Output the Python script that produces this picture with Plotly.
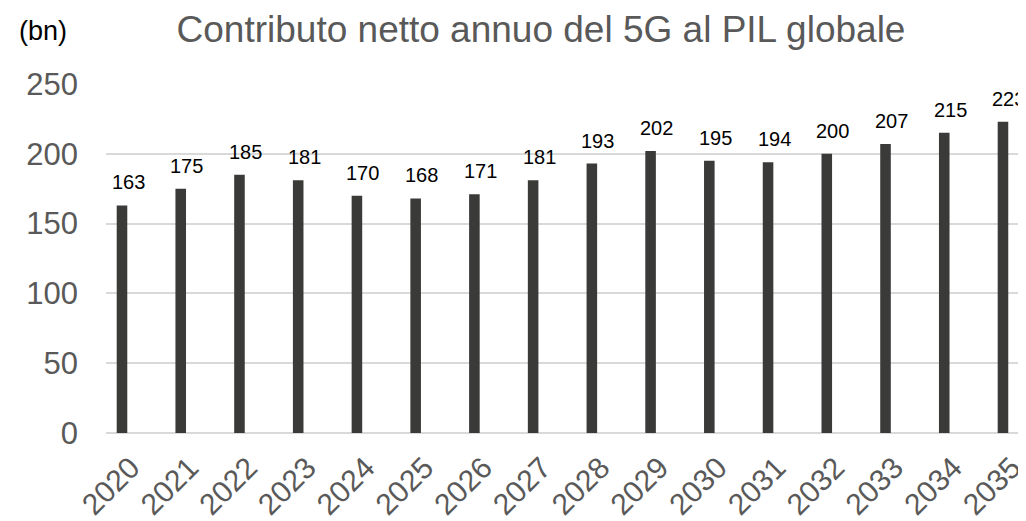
import plotly.graph_objects as go

years = [str(y) for y in range(2020, 2036)]
values = [163, 175, 185, 181, 170, 168, 171, 181, 193, 202, 195, 194, 200, 207, 215, 223]
title_text = "Contributo netto annuo del 5G al PIL globale"
unit_text = "(bn)"
y_ticks = [0, 50, 100, 150, 200, 250]

FONT = "Liberation Sans, Arial, sans-serif"
BAR_COLOR = "#3a3b38"
GRID = "#d9d9d9"
GRAY_TEXT = "#595959"

# page has an 8px body margin; figure is sized/offset to compensate
W, H = 1018, 513

fig = go.Figure()
fig.add_trace(go.Bar(
    x=years, y=values, width=0.18,
    marker=dict(color=BAR_COLOR, line=dict(width=0)),
    hoverinfo="x+y",
))

annotations = []
for i, v in enumerate(values):
    annotations.append(dict(
        x=i, y=v, xref="x", yref="y", text=str(v), showarrow=False,
        xanchor="center", yanchor="bottom", xshift=6, yshift=10,
        font=dict(family=FONT, size=20, color="#000000"),
    ))
annotations.append(dict(
    x=-0.0967, y=1.152, xref="paper", yref="paper", text=unit_text,
    showarrow=False, xanchor="left", yanchor="middle",
    font=dict(family=FONT, size=27, color="#000000"),
))

fig.update_layout(
    width=W, height=H,
    margin=dict(l=98, r=0, t=76, b=88, autoexpand=False),
    paper_bgcolor="white", plot_bgcolor="white",
    showlegend=False,
    bargap=0.8,
    title=dict(
        text=title_text, x=533 / W, xanchor="center", xref="container",
        y=(H - 21) / H, yanchor="middle", yref="container",
        font=dict(family=FONT, size=37, color=GRAY_TEXT),
    ),
    xaxis=dict(
        type="category", range=[-0.2724, 15.392],
        tickangle=-45, showgrid=False, showline=False, zeroline=False,
        tickfont=dict(family=FONT, size=30, color=GRAY_TEXT),
        ticks="", ticklabelstandoff=10, ticklabelshift=9,
    ),
    yaxis=dict(
        range=[0, 250], tickvals=y_ticks, showgrid=True, gridcolor=GRID, gridwidth=1.5,
        zeroline=True, zerolinecolor=GRID, zerolinewidth=1.5, showline=False,
        tickfont=dict(family=FONT, size=31, color=GRAY_TEXT),
        ticks="", ticklabelstandoff=27,
    ),
    annotations=annotations,
)

fig.write_html("out.html")
